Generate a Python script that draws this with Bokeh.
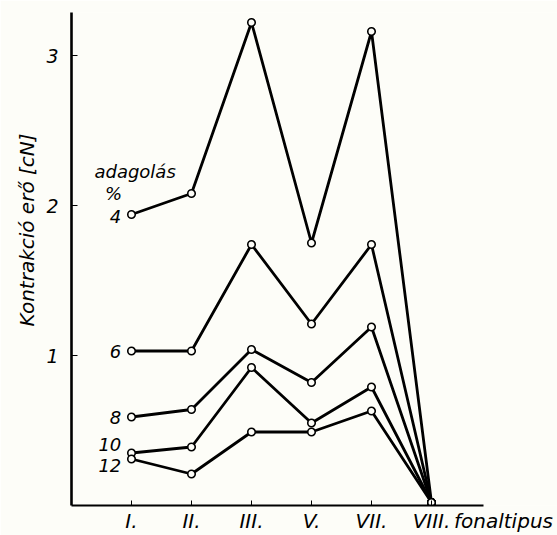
from bokeh.plotting import figure
from bokeh.models import Range1d, FixedTicker, LinearAxis, Title
from bokeh.core.properties import value
from bokeh.embed import file_html
from bokeh.resources import INLINE

# --- data ---
categories = ["I.", "II.", "III.", "V.", "VII.", "VIII."]
s4 = [1.94, 2.08, 3.22, 1.75, 3.16, 0.02]
s6 = [1.03, 1.03, 1.74, 1.21, 1.74, 0.02]
s8 = [0.59, 0.64, 1.04, 0.82, 1.19, 0.02]
s10 = [0.35, 0.39, 0.92, 0.55, 0.79, 0.02]
s12 = [0.31, 0.21, 0.49, 0.49, 0.63, 0.02]
series = [s4, s6, s8, s10, s12]
series_labels = ["4", "6", "8", "10", "12"]
y_ticks = [1, 2, 3]
x_title = "fonaltipus"
y_title = "Kontrakció erő [cN]"

# --- layout ---
bg = "#fdfdf8"
FONT = "DejaVu Sans"
xs = [i + 1 for i in range(len(categories))]
label_y = [1.93, 1.03, 0.59, 0.41, 0.27]
x_title_pos = 7.2

p = figure(width=557, height=535,
           x_range=Range1d(0, 486 / 60), y_range=Range1d(0, 493 / 150),
           output_backend="svg", toolbar_location=None,
           min_border_left=71, min_border_right=0, min_border_top=12, min_border_bottom=30,
           background_fill_color=bg, border_fill_color=bg, outline_line_color=None)
p.xgrid.visible = False
p.ygrid.visible = False

# x axis: line and ticks only
xa = p.xaxis[0]
xa.ticker = FixedTicker(ticks=xs)
xa.major_label_overrides = {x: "" for x in xs}
xa.major_label_text_font_size = "0px"
xa.major_label_standoff = 0
xa.bounds = (0, 6.87)
xa.axis_line_width = 2.2
xa.axis_line_color = "black"
xa.major_tick_in = 5
xa.major_tick_out = 0
xa.major_tick_line_color = "black"
xa.minor_tick_line_color = None

# x labels axis (no line), holds category names and the axis title
lab_ticks = xs + [x_title_pos]
lab_texts = categories + [x_title]
xl = LinearAxis(ticker=FixedTicker(ticks=lab_ticks),
                major_label_overrides={t: s for t, s in zip(lab_ticks, lab_texts)},
                axis_line_color=None, major_tick_line_color=None, minor_tick_line_color=None,
                major_tick_in=0, major_tick_out=0, major_label_standoff=3,
                major_label_text_font=FONT, major_label_text_font_style="italic",
                major_label_text_font_size="20px", major_label_text_color="black")
p.add_layout(xl, "below")

ya = p.yaxis[0]
ya.ticker = FixedTicker(ticks=y_ticks)
ya.axis_line_width = 2.6
ya.axis_line_color = "black"
ya.major_tick_in = 6
ya.major_tick_out = 0
ya.major_tick_line_color = "black"
ya.minor_tick_line_color = None
ya.major_label_standoff = 13
ya.major_label_text_font = FONT
ya.major_label_text_font_style = "italic"
ya.major_label_text_font_size = "19px"
ya.major_label_text_color = "black"

p.add_layout(Title(text=y_title, align="left", offset=179, standoff=9,
                   text_font=FONT, text_font_style="italic", text_font_size="20px",
                   text_color="black"), "left")

for s in series:
    p.line(xs, s, line_color="black", line_width=2.8)
for s in series:
    p.scatter(xs, s, size=7.5, fill_color=bg, line_color="black", line_width=1.6)

p.text(x=[0.83] * len(series_labels), y=label_y, text=series_labels,
       text_align="right", text_baseline="middle",
       text_font=value(FONT), text_font_style="italic", text_font_size="18px",
       text_color="black")
p.text(x=[1.06, 0.70], y=[2.23, 2.08], text=["adagolás", "%"],
       text_align="center", text_baseline="middle",
       text_font=value(FONT), text_font_style="italic", text_font_size="18px",
       text_color="black")

open("out.html", "w").write(file_html(p, INLINE))
